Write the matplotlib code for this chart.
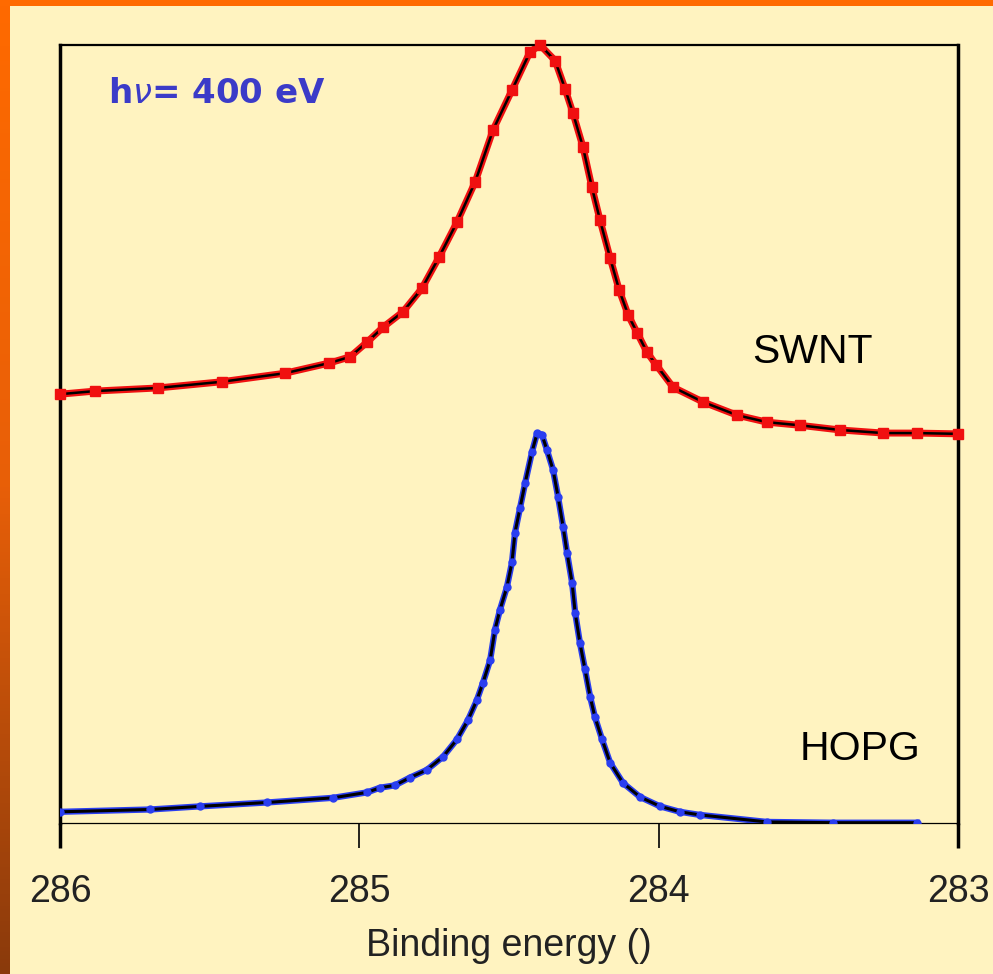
import matplotlib
matplotlib.use("Agg")
import matplotlib.pyplot as plt
import numpy as np

# binding energy (eV) and intensity (arb. units)
swnt_energy = [286.000, 285.883, 285.673, 285.459, 285.248, 285.101, 285.031,
               284.974, 284.921, 284.854, 284.791, 284.734, 284.674, 284.613,
               284.553, 284.490, 284.430, 284.396, 284.346, 284.313, 284.286,
               284.253, 284.223, 284.196, 284.162, 284.132, 284.102, 284.072,
               284.039, 284.009, 283.952, 283.852, 283.738, 283.638, 283.528,
               283.394, 283.250, 283.137, 283.000]
swnt_counts = [551, 555, 559, 567, 578, 591, 599,
               618, 637, 657, 687, 727, 772, 824,
               891, 942, 991, 1000, 980, 944, 912,
               869, 817, 775, 726, 685, 653, 630,
               605, 589, 560, 541, 524, 515, 511,
               505, 501, 501, 500]

hopg_energy = [286.000, 285.699, 285.532, 285.308, 285.088, 284.974, 284.931,
               284.881, 284.831, 284.774, 284.720, 284.674, 284.637, 284.607,
               284.587, 284.563, 284.547, 284.530, 284.507, 284.490, 284.480,
               284.463, 284.446, 284.423, 284.406, 284.390, 284.373, 284.353,
               284.336, 284.319, 284.306, 284.289, 284.279, 284.263, 284.246,
               284.229, 284.213, 284.189, 284.162, 284.119, 284.062, 283.995,
               283.929, 283.862, 283.638, 283.417, 283.137]
hopg_counts = [14, 17, 21, 26, 32, 39, 45,
               48, 58, 68, 85, 107, 132, 158,
               180, 209, 248, 274, 303, 335, 373,
               405, 437, 477, 501, 499, 479, 454,
               419, 380, 347, 308, 270, 231, 197,
               162, 136, 107, 77, 51, 33, 21,
               14, 10, 1, 0, 0]

xticks = [286, 285, 284, 283]

bg = "#FFF3C0"
red = "#F01010"
blue = "#2a3ef0"
txt_font = "Liberation Sans"

fig = plt.figure(figsize=(9.93, 9.74), dpi=100)
fig.patch.set_facecolor(bg)

# orange frame on the left and top edges
edge = fig.add_axes([0, 0, 10 / 993, 1])
grad = np.linspace(0, 1, 256).reshape(-1, 1)
edge.imshow(grad, aspect="auto", cmap=matplotlib.colors.LinearSegmentedColormap.from_list(
    "edge", ["#FF6A00", "#E85F08", "#8A3A0C"]), extent=[0, 1, 0, 1], origin="upper")
edge.axis("off")
top = fig.add_axes([0, 1 - 6 / 974, 1, 6 / 974])
top.set_facecolor("#FF6A00")
top.set_xticks([])
top.set_yticks([])
for s in top.spines.values():
    s.set_visible(False)

ax = fig.add_axes([60 / 993, 1 - 822.7 / 974, 898 / 993, 777.7 / 974])
ax.set_facecolor(bg)

# SWNT: data band + fit + markers
ax.plot(swnt_energy, swnt_counts, color=red, lw=5, zorder=2)
ax.plot(swnt_energy, swnt_counts, color="black", lw=1.8, zorder=3)
ax.plot(swnt_energy, swnt_counts, ls="none", marker="s", ms=7, color=red,
        zorder=4, clip_on=False)

# HOPG
ax.plot(hopg_energy, hopg_counts, color=blue, lw=4.5, zorder=2)
ax.plot(hopg_energy, hopg_counts, color="black", lw=2.2, zorder=3)
ax.plot(hopg_energy, hopg_counts, ls="none", marker="o", ms=5, color=blue, zorder=4)

ax.set_xlim(286, 283)
ax.set_ylim(0, 1000)
ax.set_yticks([])
ax.set_xticks(xticks)
ax.set_xticklabels([str(t) for t in xticks], fontfamily=txt_font, fontsize=27, color="#222222")
ax.tick_params(axis="x", direction="out", length=18, width=1.2, pad=19)
ticks = ax.xaxis.get_major_ticks()
ticks[0].tick1line.set_markeredgewidth(2.5)
ticks[-1].tick1line.set_markeredgewidth(2.5)

ax.spines["left"].set_linewidth(2.5)
ax.spines["right"].set_linewidth(2.5)
ax.spines["top"].set_linewidth(1.6)
ax.spines["bottom"].set_linewidth(0.9)

ax.set_xlabel("Binding energy ()", fontfamily=txt_font, fontsize=27, color="#222222", labelpad=13)

ax.text(0.0535, 0.925, r"h$\nu$= 400 eV", transform=ax.transAxes, fontfamily="DejaVu Sans",
        fontsize=24.5, fontweight="bold", color="#3b3bc8")
ax.text(0.771, 0.591, "SWNT", transform=ax.transAxes, fontfamily=txt_font,
        fontsize=29.5, color="black")
ax.text(0.824, 0.081, "HOPG", transform=ax.transAxes, fontfamily=txt_font,
        fontsize=29.5, color="black")

fig.savefig("out.png", dpi=100, facecolor=fig.get_facecolor())
